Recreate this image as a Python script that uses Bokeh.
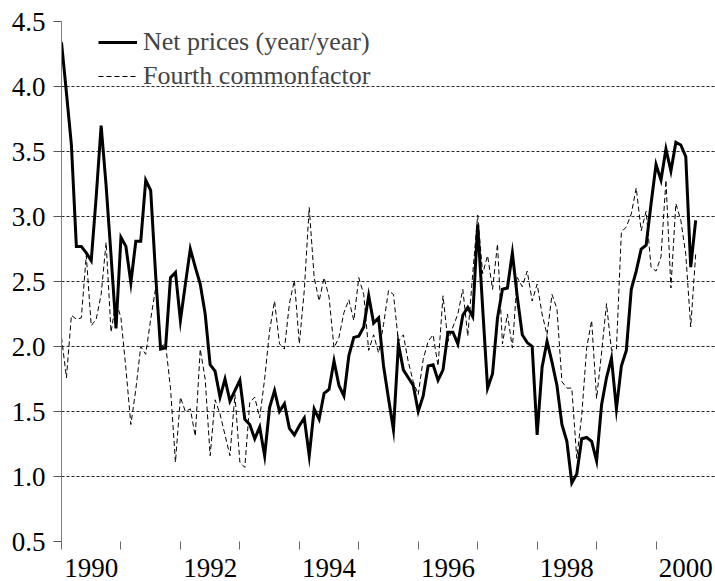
from bokeh.plotting import figure
from bokeh.models import (Range1d, FixedTicker, CustomJSTickFormatter, NumeralTickFormatter,
                          Legend, LegendItem)
from bokeh.embed import file_html
from bokeh.resources import INLINE

# ---------------- data (monthly, starting January 1990) ----------------
start_year = 1990
net_prices = [
    4.34, 3.95, 3.55, 2.77, 2.77, 2.72, 2.66, 3.15, 3.70, 3.24, 2.70, 2.14,
    2.84, 2.77, 2.49, 2.81, 2.81, 3.28, 3.20, 2.55, 1.98, 1.99, 2.53, 2.57,
    2.20, 2.48, 2.75, 2.61, 2.48, 2.25, 1.86, 1.81, 1.61, 1.75, 1.58, 1.66,
    1.74, 1.44, 1.40, 1.29, 1.38, 1.16, 1.53, 1.66, 1.50, 1.56, 1.37, 1.32,
    1.39, 1.45, 1.16, 1.52, 1.44, 1.64, 1.67, 1.89, 1.70, 1.62, 1.93, 2.07,
    2.08, 2.15, 2.39, 2.18, 2.22, 1.85, 1.60, 1.36, 2.02, 1.82, 1.76, 1.70,
    1.50, 1.62, 1.85, 1.86, 1.74, 1.82, 2.11, 2.11, 2.02, 2.24, 2.30, 2.23,
    2.94, 2.30, 1.68, 1.79, 2.22, 2.44, 2.45, 2.72, 2.38, 2.09, 2.03, 2.00,
    1.32, 1.84, 2.04, 1.88, 1.70, 1.40, 1.27, 0.95, 1.02, 1.29, 1.30, 1.27,
    1.12, 1.55, 1.76, 1.91, 1.52, 1.85, 1.97, 2.44, 2.58, 2.75, 2.78, 3.10,
    3.40, 3.28, 3.52, 3.35, 3.57, 3.55, 3.46, 2.61, 2.97,
]
fourth_factor = [
    2.07, 1.76, 2.24, 2.21, 2.22, 2.70, 2.16, 2.21, 2.40, 2.80, 2.11, 2.35,
    2.22, 1.83, 1.40, 1.67, 2.00, 1.94, 2.21, 2.45, 2.00, 2.02, 1.68, 1.11,
    1.61, 1.50, 1.52, 1.31, 1.98, 1.75, 1.16, 1.59, 1.48, 1.32, 1.16, 1.63,
    1.11, 1.07, 1.57, 1.61, 1.45, 1.75, 2.12, 2.35, 2.02, 1.98, 2.33, 2.51,
    2.02, 2.43, 3.07, 2.53, 2.35, 2.53, 2.38, 1.99, 2.07, 2.26, 2.36, 2.20,
    2.53, 2.40, 1.97, 2.09, 1.95, 2.17, 2.43, 2.40, 2.04, 2.09, 1.88, 1.73,
    1.63, 1.90, 2.04, 2.09, 1.85, 2.39, 2.04, 2.15, 2.25, 2.44, 2.08, 2.56,
    3.01, 2.56, 2.70, 2.44, 2.79, 2.02, 2.25, 1.99, 2.53, 2.46, 2.58, 2.35,
    2.48, 2.25, 2.09, 2.40, 2.29, 1.73, 1.68, 1.68, 1.14, 1.47, 1.99, 2.20,
    1.60, 1.95, 2.33, 1.97, 1.98, 2.88, 2.92, 3.02, 3.22, 2.89, 3.04, 2.61,
    2.58, 2.69, 3.28, 2.45, 3.10, 2.97, 2.71, 2.15, 2.71,
]
series_names = ["Net prices (year/year)", "Fourth commonfactor"]
year_boundaries = list(range(1990, 2002))
labelled_years = [1990, 1992, 1994, 1996, 1998, 2000]
y_ticks = [0.5, 1.0, 1.5, 2.0, 2.5, 3.0, 3.5, 4.0, 4.5]

months = [start_year + i / 12 for i in range(len(net_prices))]

FONT = "Liberation Serif"

p = figure(width=715, height=581, output_backend="svg", toolbar_location=None,
           x_range=Range1d(1990, 2001), y_range=Range1d(0.5, 4.5),
           min_border_left=61, min_border_top=21, min_border_right=0, min_border_bottom=40)
p.outline_line_color = None
p.background_fill_color = "white"

r_net = p.line(months, net_prices, line_color="black", line_width=3, line_join="miter")
r_fac = p.line(months, fourth_factor, line_color="black", line_width=1, line_dash="5 3")

# x axis: year boundaries as (minor) ticks, labels centred in the year
xax = p.xaxis[0]
xax.ticker = FixedTicker(ticks=[y + 0.5 for y in labelled_years], minor_ticks=year_boundaries)
xax.formatter = CustomJSTickFormatter(code="return String(Math.floor(tick));")
xax.major_tick_out = 0
xax.major_tick_in = 0
xax.minor_tick_out = 8
xax.minor_tick_in = 0
xax.minor_tick_line_color = "#666666"
xax.axis_line_color = None
xax.major_label_standoff = 9
xax.major_label_text_font = FONT
xax.major_label_text_font_size = "27px"
xax.major_label_text_color = "black"

yax = p.yaxis[0]
yax.ticker = FixedTicker(ticks=y_ticks)
yax.formatter = NumeralTickFormatter(format="0.0")
yax.major_tick_out = 8
yax.major_tick_in = 0
yax.minor_tick_out = 0
yax.minor_tick_in = 0
yax.axis_line_color = "#7f7f7f"
yax.major_tick_line_color = "#555555"
yax.major_label_standoff = 8
yax.major_label_text_font = FONT
yax.major_label_text_font_size = "27px"
yax.major_label_text_color = "black"

p.xgrid.visible = False
p.ygrid.ticker = FixedTicker(ticks=y_ticks)
p.ygrid.grid_line_color = "black"
p.ygrid.grid_line_dash = "3 2"
p.ygrid.grid_line_width = 1
p.ygrid.grid_line_alpha = 0.85

legend = Legend(items=[LegendItem(label=series_names[0], renderers=[r_net]),
                       LegendItem(label=series_names[1], renderers=[r_fac])],
                location=(37, 450), margin=0, padding=0, spacing=4,
                glyph_width=39, glyph_height=30, label_height=30, label_standoff=6,
                label_text_font=FONT, label_text_font_size="26px",
                background_fill_alpha=0, border_line_alpha=0)
p.add_layout(legend)

open("out.html", "w").write(file_html(p, INLINE))
